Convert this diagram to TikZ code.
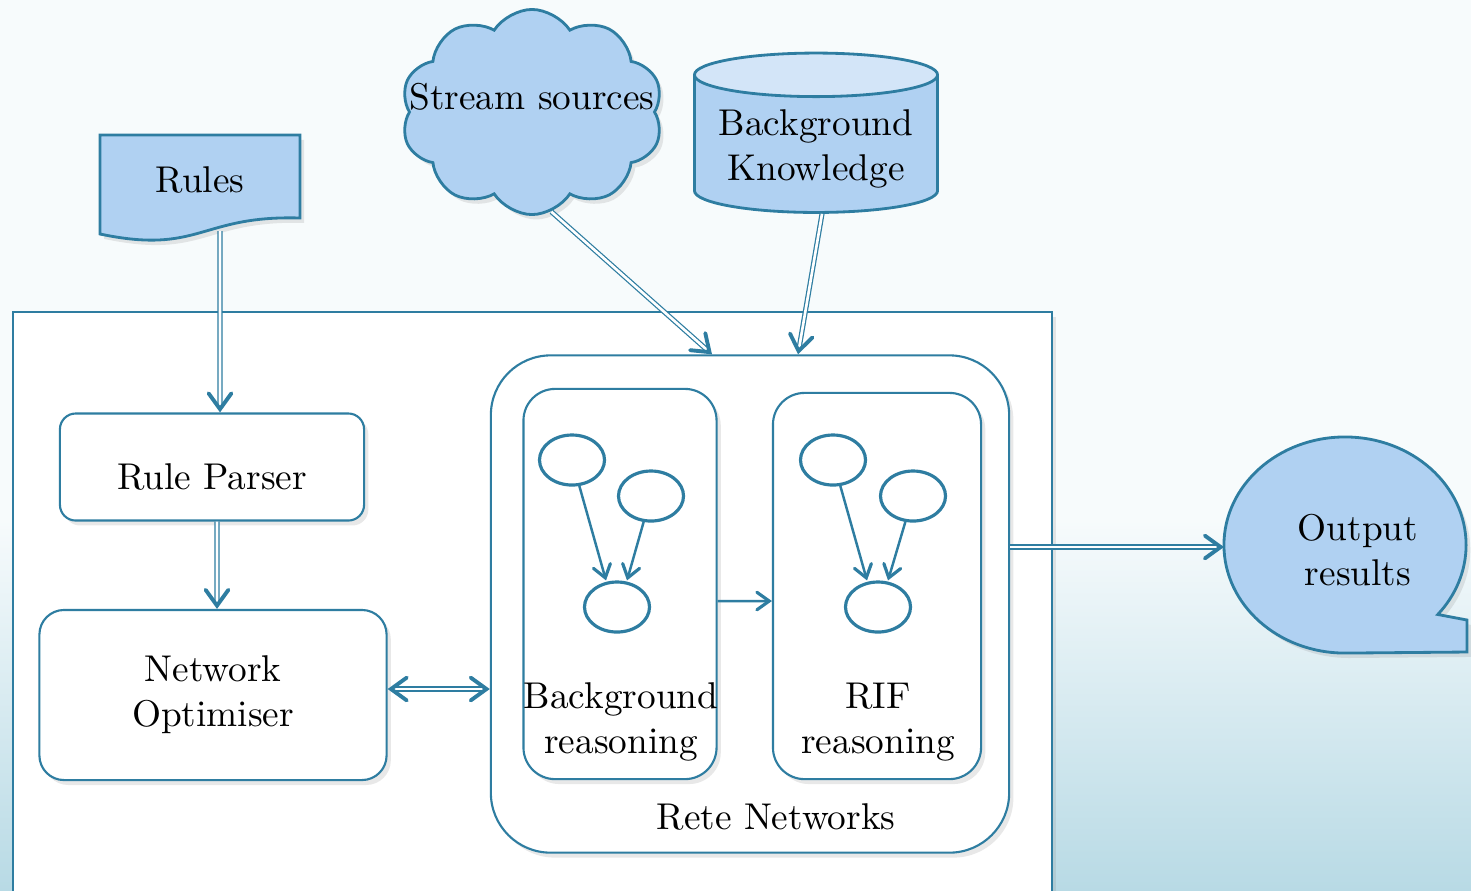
\documentclass[tikz,border=0pt]{standalone}
\usetikzlibrary{arrows.meta,shapes.geometric,shapes.symbols,shadows}

\definecolor{edgeblue}{HTML}{2E7DA1}
\definecolor{boxfill}{HTML}{B0D1F2}
\definecolor{capfill}{HTML}{D3E5F8}
\definecolor{bglight}{RGB}{247,251,252}
\definecolor{bgdark}{RGB}{184,218,229}

\tikzset{
  >={Straight Barb[length=4.5pt,width=6.5pt,line width=1.1pt,line cap=round]},
  txt/.style={font=\fontsize{10.6}{12.8}\selectfont, align=center, text=black},
  rbox/.style={draw=edgeblue, line width=0.6pt, fill=white, inner sep=0pt},
  blob/.style={draw=edgeblue, line width=0.9pt, fill=white, ellipse, minimum width=0.65cm, minimum height=0.5cm, inner sep=0pt},
  softshadow/.style={drop shadow={shadow xshift=1.2pt, shadow yshift=-1.4pt, opacity=0.18}},
  dbl/.style={draw=edgeblue, double=white, double distance=0.75pt, line width=0.35pt, ->},
  sgl/.style={draw=edgeblue, line width=0.7pt,
    -{Straight Barb[length=3.5pt,width=5pt,line width=0.9pt,line cap=round]}},
}

\begin{document}
\begin{tikzpicture}[x=0.01cm, y=-0.01cm]

    \useasboundingbox (0,0) rectangle (1471,890);
    \fill[bglight] (0,0) rectangle (1471,890);
    \shade[top color=bglight, bottom color=bgdark] (0,520) rectangle (1471,890);

    % main frame
    \draw[draw=edgeblue, line width=0.6pt, fill=white, softshadow] (13,312) rectangle (1052,895);

    % sources
    \draw[draw=edgeblue, line width=0.8pt, fill=boxfill, softshadow]
        (100,135) -- (300,135) -- (300,218)
        .. controls (200,215) and (200,255) .. (100,234) -- cycle;
    \node[txt] (rules) at (200,180) {Rules};
    \coordinate (rulesb) at (220,231);

    \node[cloud, cloud puffs=10, cloud puff arc=115, cloud ignores aspect, draw=edgeblue, line width=0.8pt,
          fill=boxfill, minimum width=2.62cm, minimum height=2.05cm, softshadow] (src) at (532,112) {};
    \node[txt] (srct) at (532,97) {Stream sources};

    \node[cylinder, shape border rotate=90, aspect=0.2, draw=edgeblue, line width=0.8pt,
          cylinder uses custom fill, cylinder body fill=boxfill, cylinder end fill=capfill,
          minimum width=2.43cm, minimum height=1.2cm, txt] (bk) at (816,149)
        {Background\\Knowledge};

    % left column
    \node[rbox, rounded corners=4.5pt, minimum width=3.04cm, minimum height=1.07cm, text height=0.46cm, txt, softshadow] (parser) at (212,467)
        {Rule Parser};
    \node[rbox, rounded corners=7pt, minimum width=3.47cm, minimum height=1.70cm, txt, softshadow] (opt) at (213,695)
        {Network\\Optimiser};

    % rete networks
    \node[rbox, rounded corners=17pt, minimum width=5.18cm, minimum height=4.97cm, softshadow] (rete) at (750,604) {};
    \node[txt] (retet) at (776,817) {Rete Networks};

    \node[rbox, rounded corners=9pt, minimum width=1.93cm, minimum height=3.90cm, softshadow] (bgr) at (620,584) {};
    \node[txt] (bgrt) at (621,722) {Background\\reasoning};
    \node[rbox, rounded corners=9pt, minimum width=2.08cm, minimum height=3.86cm, softshadow] (rif) at (877,586) {};
    \node[txt] (rift) at (878,722) {RIF\\reasoning};

    \node[blob] (b1) at (572,460) {};
    \node[blob] (b2) at (651,496) {};
    \node[blob] (b3) at (617,607) {};
    \node[blob] (r1) at (833,460) {};
    \node[blob] (r2) at (913,496) {};
    \node[blob] (r3) at (878,607) {};

    \draw[sgl] (b1) -- ([xshift=-0.11cm]b3.north);
    \draw[sgl] (b2) -- ([xshift=0.1cm]b3.north);
    \draw[sgl] (r1) -- ([xshift=-0.11cm]r3.north);
    \draw[sgl] (r2) -- ([xshift=0.1cm]r3.north);
    \draw[sgl] ([yshift=-0.17cm]bgr.east) -- ([yshift=-0.15cm]rif.west);

    % output
    \node[ellipse, minimum width=2.42cm, minimum height=2.16cm, inner sep=0pt, outer sep=0pt] (outb) at (1345,545) {};
    \draw[draw=edgeblue, line width=0.8pt, fill=boxfill, softshadow]
        (outb.south) arc[start angle=270, end angle=-40, x radius=1.21cm, y radius=1.08cm]
        -- (1467,620) -- (1467,652) -- cycle;
    \node[txt] (outt) at (1358,550) {Output\\results};

    % connectors
    \draw[dbl] (rulesb) -- ([xshift=0.08cm]parser.north);
    \draw[dbl] ([xshift=0.05cm]parser.south) -- ([xshift=0.04cm]opt.north);
    \draw[dbl, <->] (opt.east |- 0,689) -- (rete.west |- 0,689);
    \draw[dbl] (src.-79) -- ([xshift=-0.38cm]rete.north);
    \draw[dbl] ([xshift=0.06cm]bk.bottom) -- ([xshift=0.48cm]rete.north);
    \draw[dbl] (rete.east |- 0,547) -- (outb.west |- 0,547);

\end{tikzpicture}
\end{document}
